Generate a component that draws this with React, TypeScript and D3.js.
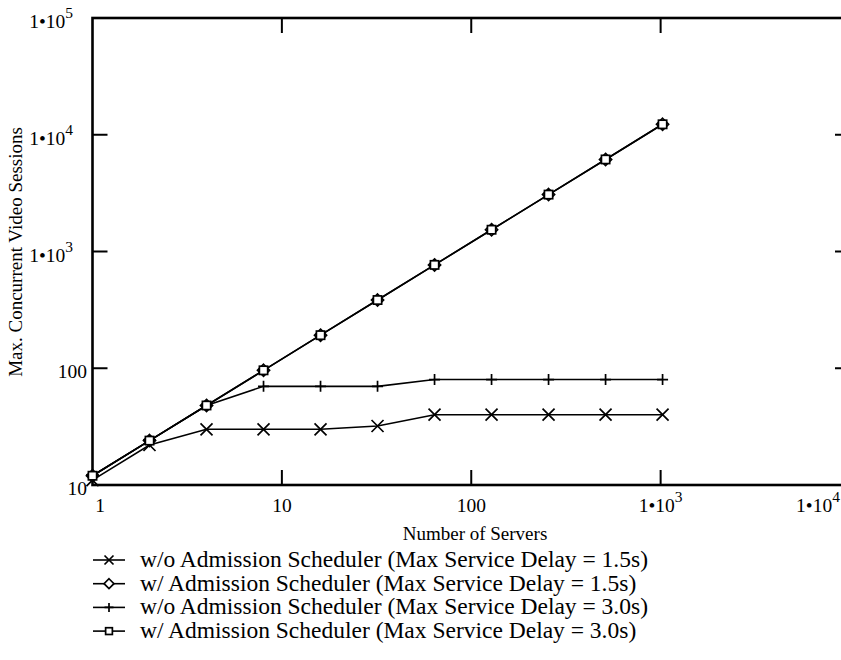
import React from "react";
import * as d3 from "d3";

// Number of servers (x) and maximum concurrent sessions per configuration
const servers = [1, 2, 4, 8, 16, 32, 64, 128, 256, 512, 1024];
const woAdmission15 = [11, 22, 30, 30, 30, 32, 40, 40, 40, 40, 40];
const wAdmission15 = [12, 24, 48, 96, 192, 384, 768, 1536, 3072, 6144, 12288];
const woAdmission30 = [12, 24, 48, 70, 70, 70, 80, 80, 80, 80, 80];
const wAdmission30 = [12, 24, 48, 96, 192, 384, 768, 1536, 3072, 6144, 12288];

const seriesNames = [
  "w/o Admission Scheduler (Max Service Delay = 1.5s)",
  "w/ Admission Scheduler (Max Service Delay = 1.5s)",
  "w/o Admission Scheduler (Max Service Delay = 3.0s)",
  "w/ Admission Scheduler (Max Service Delay = 3.0s)",
];
const seriesMarkers = ["cross", "diamond", "plus", "square"];
const seriesValues = [woAdmission15, wAdmission15, woAdmission30, wAdmission30];

const xTicks = [1, 10, 100, 1000, 10000];
const yTicks = [10, 100, 1000, 10000, 100000];

const W = 841;
const H = 660;
const FONT = "'Liberation Serif', 'Times New Roman', serif";

const x = d3.scaleLog().domain([1, 10000]).range([92.5, 850]);
const y = d3.scaleLog().domain([10, 100000]).range([485, 18]);

function Marker({ kind, cx, cy, s }: { kind: string; cx: number; cy: number; s: number }) {
  const common = { fill: "none", stroke: "#000", strokeWidth: 1.7 };
  if (kind === "cross") {
    return (
      <path
        d={`M${cx - s},${cy - s}L${cx + s},${cy + s}M${cx - s},${cy + s}L${cx + s},${cy - s}`}
        {...common}
      />
    );
  }
  if (kind === "plus") {
    return <path d={`M${cx - s},${cy}L${cx + s},${cy}M${cx},${cy - s}L${cx},${cy + s}`} {...common} />;
  }
  if (kind === "diamond") {
    const r = s * 1.1;
    return (
      <path
        d={`M${cx},${cy - r}L${cx + r},${cy}L${cx},${cy + r}L${cx - r},${cy}Z`}
        {...common}
        fill="#fff"
      />
    );
  }
  const h = s * 0.75;
  return <rect x={cx - h} y={cy - h} width={2 * h} height={2 * h} {...common} fill="#fff" />;
}

function PowerLabel({ v }: { v: number }) {
  const e = Math.round(Math.log10(v));
  if (e <= 2) return <>{String(v)}</>;
  return (
    <>
      1•10
      <tspan dy={-10} fontSize={15.5}>
        {e}
      </tspan>
    </>
  );
}

export default function App() {
  const line = d3
    .line<[number, number]>()
    .x((d) => x(d[0]))
    .y((d) => y(d[1]));

  const legendTop = 560;
  const legendStep = 23.7;

  return (
    <svg
      width={W}
      height={H}
      style={{ position: "absolute", left: 0, top: 0, background: "#fff" }}
      fontFamily={FONT}
    >
      {/* frame */}
      <rect
        x={x(1)}
        y={y(100000)}
        width={x(10000) - x(1)}
        height={y(10) - y(100000)}
        fill="none"
        stroke="#000"
        strokeWidth={2.6}
      />

      {/* inward ticks */}
      {xTicks.slice(1, -1).map((t) => (
        <g key={"xt" + t} stroke="#000" strokeWidth={2}>
          <line x1={x(t)} x2={x(t)} y1={y(10)} y2={y(10) - 15} />
          <line x1={x(t)} x2={x(t)} y1={y(100000)} y2={y(100000) + 15} />
        </g>
      ))}
      {yTicks.slice(1, -1).map((t) => (
        <g key={"yt" + t} stroke="#000" strokeWidth={2}>
          <line x1={x(1)} x2={x(1) + 15} y1={y(t)} y2={y(t)} />
          <line x1={x(10000)} x2={x(10000) - 15} y1={y(t)} y2={y(t)} />
        </g>
      ))}

      {/* tick labels */}
      {yTicks.map((t) => (
        <text
          key={"yl" + t}
          x={t >= 1000 ? 73 : 87}
          y={y(t) + 10}
          textAnchor="end"
          fontSize={19.5}
          fill="#000"
        >
          <PowerLabel v={t} />
        </text>
      ))}
      {xTicks.map((t) => (
        <text
          key={"xl" + t}
          x={Math.min(Math.max(x(t), 100), 818)}
          y={512}
          textAnchor="middle"
          fontSize={19.5}
          fill="#000"
        >
          <PowerLabel v={t} />
        </text>
      ))}

      {/* axis titles */}
      <text x={475} y={540} textAnchor="middle" fontSize={19} fill="#000">
        Number of Servers
      </text>
      <text
        transform={`translate(22,252) rotate(-90)`}
        textAnchor="middle"
        fontSize={19}
        fill="#000"
      >
        Max. Concurrent Video Sessions
      </text>

      {/* series */}
      {seriesValues.map((vals, i) => {
        const pts = servers.map((s, j) => [s, vals[j]] as [number, number]);
        return (
          <g key={"s" + i}>
            <path d={line(pts) ?? ""} fill="none" stroke="#000" strokeWidth={1.6} />
            {pts.map((p, j) => (
              <Marker key={j} kind={seriesMarkers[i]} cx={x(p[0])} cy={y(p[1])} s={seriesMarkers[i] === "cross" ? 6 : 5.5} />
            ))}
          </g>
        );
      })}

      {/* legend */}
      {seriesNames.map((name, i) => {
        const cy = legendTop + i * legendStep;
        return (
          <g key={"lg" + i}>
            <line x1={93} x2={125} y1={cy} y2={cy} stroke="#000" strokeWidth={1.6} />
            <Marker kind={seriesMarkers[i]} cx={109} cy={cy} s={seriesMarkers[i] === "square" ? 4.5 : 4.5} />
            <text x={140} y={cy + 7} fontSize={23.5} fill="#000">
              {name}
            </text>
          </g>
        );
      })}
    </svg>
  );
}
